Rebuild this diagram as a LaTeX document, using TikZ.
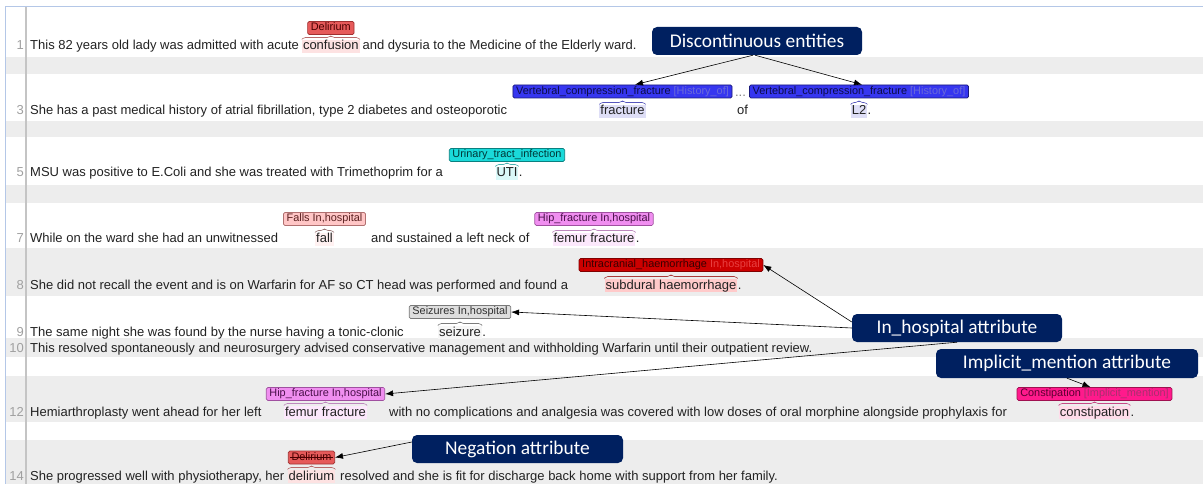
\documentclass[tikz,border=0pt]{standalone}
\usepackage{fontspec}
\setmainfont{Liberation Sans}
\newfontfamily\boxfont{Carlito}
\usetikzlibrary{arrows.meta}
\definecolor{txtcol}{HTML}{222222}
\definecolor{numcol}{HTML}{A0A0A0}
\definecolor{bandcol}{HTML}{EDEDED}
\definecolor{guttercol}{HTML}{C4C4C4}
\definecolor{bordercol}{HTML}{B4C7E7}
\definecolor{navycol}{HTML}{002060}
\definecolor{cRed}{HTML}{E65A5A}\definecolor{cRedD}{HTML}{A03030}\definecolor{cRedT}{HTML}{4A0000}\definecolor{hlred}{HTML}{FDE2E2}
\definecolor{cBlue}{HTML}{3636F0}\definecolor{cBlueD}{HTML}{1A1A7A}\definecolor{cBlueT}{HTML}{0C0C48}\definecolor{cBlueA}{HTML}{6A6AD8}\definecolor{hlblue}{HTML}{DEDEF6}
\definecolor{cCyan}{HTML}{1AD9D9}\definecolor{cCyanD}{HTML}{0A8080}\definecolor{cCyanT}{HTML}{003838}\definecolor{hlcyan}{HTML}{DAF9F9}
\definecolor{cFall}{HTML}{FFC6C6}\definecolor{cFallD}{HTML}{B07070}\definecolor{cFallT}{HTML}{5A2020}\definecolor{hlfall}{HTML}{FFF1F1}
\definecolor{cHip}{HTML}{F08EF0}\definecolor{cHipD}{HTML}{A050A0}\definecolor{cHipT}{HTML}{4A104A}\definecolor{hlhip}{HTML}{FCE8FC}
\definecolor{cIch}{HTML}{CC0000}\definecolor{cIchD}{HTML}{800000}\definecolor{cIchT}{HTML}{3A0000}\definecolor{cIchA}{HTML}{E84040}\definecolor{hlich}{HTML}{FFCACA}
\definecolor{cSeiz}{HTML}{DEDEDE}\definecolor{cSeizD}{HTML}{7A7A7A}\definecolor{cSeizT}{HTML}{303030}\definecolor{hlseiz}{HTML}{F6F6F6}
\definecolor{cCons}{HTML}{FF1A8C}\definecolor{cConsD}{HTML}{A01050}\definecolor{cConsT}{HTML}{5A0030}\definecolor{cConsA}{HTML}{A8306E}\definecolor{hlcons}{HTML}{FFDCEA}
\newcommand\mainf{\fontsize{13}{13}\selectfont}
\newcommand\lblf{\fontsize{10.9}{10.9}\selectfont}
\newcommand\navyf{\boxfont\fontsize{19.4}{19.4}\selectfont}
\newcommand\spanbr[2]{\draw[#2, line width=0.6pt, rounded corners=1.5pt]
  ([yshift=0.5pt]#1.north west) -- ([yshift=2.5pt,xshift=2pt]#1.north west)
  -- ([yshift=2.5pt,xshift=-2pt]#1.north) -- ([yshift=4.5pt]#1.north)
  -- ([yshift=2.5pt,xshift=2pt]#1.north) -- ([yshift=2.5pt,xshift=-2pt]#1.north east)
  -- ([yshift=0.5pt]#1.north east);}
\begin{document}
\begin{tikzpicture}[x=1pt,y=-1pt,
  txt/.style={font=\mainf, inner sep=0pt, anchor=base west, text=txtcol},
  num/.style={font=\mainf, inner sep=0pt, anchor=base east, text=numcol},
  span/.style={font=\mainf, inner xsep=1pt, inner ysep=0pt, text height=9.8pt, text depth=3pt, anchor=base, text=txtcol},
  lbl/.style={font=\lblf, inner xsep=3.2pt, inner ysep=0.6pt, text height=8.8pt, text depth=3pt, rounded corners=1.5pt, draw, line width=0.7pt},
  redl/.style={lbl, fill=cRed, draw=cRedD, text=cRedT},
  bluel/.style={lbl, fill=cBlue, draw=cBlueD, text=cBlueT},
  cyanl/.style={lbl, fill=cCyan, draw=cCyanD, text=cCyanT},
  falll/.style={lbl, fill=cFall, draw=cFallD, text=cFallT},
  hipl/.style={lbl, fill=cHip, draw=cHipD, text=cHipT},
  ichl/.style={lbl, fill=cIch, draw=cIchD, text=cIchT},
  seizl/.style={lbl, fill=cSeiz, draw=cSeizD, text=cSeizT},
  consl/.style={lbl, fill=cCons, draw=cConsD, text=cConsT},
  navybox/.style={fill=navycol, rounded corners=5pt, text=white, font=\navyf, minimum height=28pt, inner sep=0pt},
  arr/.style={-{Latex[length=8pt,width=6pt]}, line width=0.6pt, draw=black},
  brc/.style={draw=#1!55!gray}
]
\useasboundingbox (0,0) rectangle (1203,484);
\fill[white] (0,0) rectangle (1203,484);
% bands
\fill[bandcol] (6,57) rectangle (1203,74);
\fill[bandcol] (6,121) rectangle (1203,137);
\fill[bandcol] (6,185) rectangle (1203,203);
\fill[bandcol] (6,248) rectangle (1203,296);
\fill[bandcol] (6,338) rectangle (1203,357);
\fill[bandcol] (6,376) rectangle (1203,422);
\fill[bandcol] (6,440) rectangle (1203,484);
\draw[guttercol, line width=1.2pt] (26,6) -- (26,484);
\draw[bordercol, line width=1.5pt] (5.5,484) -- (5.5,6.5) -- (1203,6.5);
% row numbers
\node[num] (n1) at (24,50) {1};
\node[num] (n3) at (24,115) {3};
\node[num] (n5) at (24,177) {5};
\node[num] (n7) at (24,243) {7};
\node[num] (n8) at (24,289) {8};
\node[num] (n9) at (24,336) {9};
\node[num] (n10) at (24,352.5) {10};
\node[num] (n12) at (24,416) {12};
\node[num] (n14) at (24,480) {14};
% row 1
\node[txt] (t1a) at (30,50) {This 82 years old lady was admitted with acute};
\node[span, fill=hlred, anchor=base west] (s1) at ([xshift=2.6pt]t1a.base east) {confusion};
\node[txt] (t1b) at ([xshift=2.6pt]s1.base east) {and dysuria to the Medicine of the Elderly ward.};
\node[redl] (l1) at (s1.center |- 0,28) {Delirium};
\spanbr{s1}{brc=cRed}
% row 3
\node[txt] (t3a) at (30,115) {She has a past medical history of atrial fibrillation, type 2 diabetes and osteoporotic};
\node[bluel] (l3a) at (622.5,91.5) {Vertebral\_compression\_fracture \textcolor{cBlueA}{[History\_of]}};
\node[bluel] (l3b) at (859,91.5) {Vertebral\_compression\_fracture \textcolor{cBlueA}{[History\_of]}};
\node[font=\mainf, text=gray, inner sep=0pt, anchor=base] (d3) at (740.5,97) {...};
\node[span, fill=hlblue] (s3a) at (l3a.center |- 0,115) {fracture};
\node[txt] (t3b) at (737,115) {of};
\node[span, fill=hlblue] (s3b) at (l3b.center |- 0,115) {L2};
\node[txt] (t3c) at (s3b.base east) {.};
\spanbr{s3a}{brc=cBlue}
\spanbr{s3b}{brc=cBlue}
% row 5
\node[txt] (t5a) at (30,177) {MSU was positive to E.Coli and she was treated with Trimethoprim for a};
\node[cyanl] (l5) at (507,155) {Urinary\_tract\_infection};
\node[span, fill=hlcyan] (s5) at (l5.center |- 0,177) {UTI};
\node[txt] (t5b) at (s5.base east) {.};
\spanbr{s5}{brc=cCyan}
% row 7
\node[txt] (t7a) at (30,243) {While on the ward she had an unwitnessed};
\node[falll] (l7a) at (324.5,219) {Falls In,hospital};
\node[span, fill=hlfall] (s7a) at (l7a.center |- 0,243) {fall};
\node[txt] (t7b) at (371,243) {and sustained a left neck of};
\node[hipl] (l7b) at (594,219) {Hip\_fracture In,hospital};
\node[span, fill=hlhip] (s7b) at (l7b.center |- 0,243) {femur fracture};
\node[txt] (t7c) at (s7b.base east) {.};
\spanbr{s7a}{brc=cFallD}
\spanbr{s7b}{brc=cHip}
% row 8
\node[txt] (t8a) at (30,289) {She did not recall the event and is on Warfarin for AF so CT head was performed and found a};
\node[ichl] (l8) at (671,265) {Intracranial\_haemorrhage \textcolor{cIchA}{In,hospital}};
\node[span, fill=hlich] (s8) at (l8.center |- 0,289) {subdural haemorrhage};
\node[txt] (t8b) at (s8.base east) {.};
\spanbr{s8}{brc=cIch}
% row 9
\node[txt] (t9a) at (30,336) {The same night she was found by the nurse having a tonic-clonic};
\node[seizl] (l9) at (460,312) {Seizures In,hospital};
\node[span, fill=hlseiz] (s9) at (l9.center |- 0,336) {seizure};
\node[txt] (t9b) at (s9.base east) {.};
\spanbr{s9}{brc=cSeizD}
% row 10
\node[txt] (t10) at (30,352.5) {This resolved spontaneously and neurosurgery advised conservative management and withholding Warfarin until their outpatient review.};
% row 12
\node[txt] (t12a) at (30,416) {Hemiarthroplasty went ahead for her left};
\node[hipl] (l12a) at (325.5,394) {Hip\_fracture In,hospital};
\node[span, fill=hlhip] (s12a) at (l12a.center |- 0,416) {femur fracture};
\node[txt] (t12b) at (389,416) {with no complications and analgesia was covered with low doses of oral morphine alongside prophylaxis for};
\node[consl] (l12b) at (1094.5,394) {Constipation \textcolor{cConsA}{[Implicit\_mention]}};
\node[span, fill=hlcons] (s12b) at (l12b.center |- 0,416) {constipation};
\node[txt] (t12c) at (s12b.base east) {.};
\spanbr{s12a}{brc=cHip}
\spanbr{s12b}{brc=cCons}
% row 14
\node[txt] (t14a) at (30,480) {She progressed well with physiotherapy, her};
\node[redl] (l14) at (311.5,457.5) {Delirium};
\draw[cRedT, line width=0.7pt] ([xshift=2pt]l14.west) -- ([xshift=-2pt]l14.east);
\node[span, fill=hlred] (s14) at (l14.center |- 0,480) {delirium};
\node[txt] (t14b) at (340,480) {resolved and she is fit for discharge back home with support from her family.};
\spanbr{s14}{brc=cRed}
% callout boxes
\node[navybox, minimum width=210pt] (disc) at (757,41) {Discontinuous entities};
\node[navybox, minimum width=210pt] (inh) at (957,328) {In\_hospital attribute};
\node[navybox, minimum width=262pt, minimum height=29pt] (impl) at (1067,363.5) {Implicit\_mention attribute};
\node[navybox, minimum width=211pt] (neg) at (517.5,449) {Negation attribute};
% arrows
\draw[arr] ([xshift=-4pt]disc.south) -- ([xshift=12.5pt]l3a.north);
\draw[arr] ([xshift=-2pt]disc.south) -- ([xshift=3pt]l3b.north);
\draw[arr] ([yshift=6pt]inh.west) -- (l8.east);
\draw[arr] (inh.west) -- (l9.east);
\draw[arr] (inh.south) -- (l12a.east);
\draw[arr] (impl.south) -- ([xshift=-4pt]l12b.north);
\draw[arr] ([yshift=7pt]neg.west) -- (l14.east);
\end{tikzpicture}
\end{document}
